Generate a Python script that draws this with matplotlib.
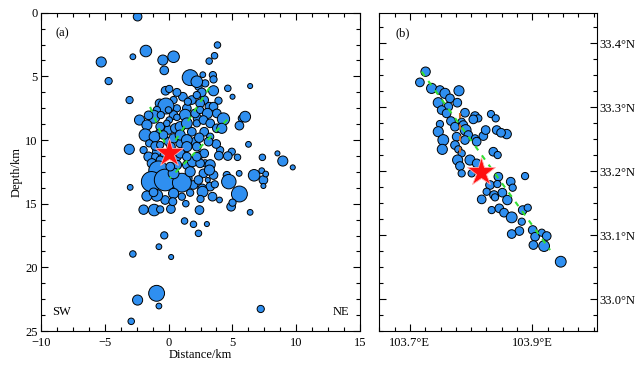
import matplotlib
matplotlib.use("Agg")
import matplotlib.pyplot as plt
from matplotlib.ticker import MultipleLocator, FixedLocator, FuncFormatter
import numpy as np

plt.rcParams['font.family'] = ['Liberation Serif', 'DejaVu Serif']
plt.rcParams['font.size'] = 9

# ---------------- Panel (a): depth profile ----------------
dist_a = [2.34, 2.87, 1.12, 1.82, 0.39, 1.43, 0.65, 2.79, -0.71, 0.39,
          2.27, -0.01, 1.82, 2.79, -0.01, 0.91, 2.08, 0.65, 1.43, 2.47,
          0.52, 2.87, -0.40, -0.92, 3.52, 1.56, 3.26, 1.95, 0.39, 1.04,
          -0.27, 4.04, 4.95,
          -2.43, 3.83, -1.78, -2.80, 0.39, -0.45, 3.18, 3.60, -5.28, -0.34,
          -4.70, 1.69, 2.21, 2.68, 3.47, 3.52, 6.39, 4.64, 5.01, -0.24,
          0.05, 0.65, -3.06, 3.52, 2.60, 2.21, 3.91, -0.21, 1.51, 2.47,
          3.20, 3.52, -0.01, -0.92, -1.18, -2.28, -1.57, -0.61, 1.30, 2.08,
          2.47, 3.05, 3.78, 4.30, 5.74, 6.00, 5.55, 0.05, 0.65, -0.66,
          -1.70, -0.79, 0.52, -0.14, 0.91, 1.43, 2.21, 2.73, 3.26, 3.78,
          4.17, -1.83, -1.10, -1.52, -0.40, 0.39, 0.91, 1.43, 2.40, 3.26,
          3.73, 2.21, 3.13, -3.08, -1.96, -1.05, -0.66, 1.43, 2.79, 6.26,
          3.94, 4.64, 5.40, 7.35, 8.53, 8.95, 9.73, -1.57, -1.05, -0.66,
          -1.31, 0.91, 1.87, 3.26, 2.47, 0.18, 0.65, 2.21, 1.43,
          -0.79, -1.34, -0.27, 1.04, 0.39, 1.69, 2.73, 3.20, 0.13,
          2.34, 3.07, 3.62, 4.56, 4.72, 5.53, 6.70, 7.30, 7.43, 7.61,
          7.43, -3.01, 5.55, 2.63, 2.66, 1.69, 0.39, -0.92, -1.70, -1.18,
          2.50, 3.44, 3.99, 4.90, 5.01, -1.96, -1.13, -0.66, 0.18, 0.33,
          1.35, 2.42, 6.39, 1.25, 1.95, 3.00, 2.34, -0.34, -0.76, 0.20,
          -2.80, -0.94, -2.43, -0.76, 7.22, -2.93]
depth_a = [5.81, 5.55, 6.60, 6.86, 6.86, 7.51, 7.51, 6.86, 7.12, 8.04,
           8.30, 9.21, 9.35, 9.35, 10.13, 10.26, 10.13, 11.31, 11.96, 11.18,
           10.92, 11.83, 11.05, 10.92, 12.75, 13.01, 13.66, 13.53, 13.53, 14.45,
           14.71, 10.79, 10.92,
           0.31, 2.54, 3.01, 3.46, 3.46, 3.72, 3.80, 3.38, 3.87, 4.53,
           5.37, 5.10, 5.42, 4.87, 4.90, 5.24, 5.76, 5.94, 6.60, 6.13,
           5.99, 6.26, 6.86, 6.13, 6.26, 6.47, 6.91, 7.33, 6.99, 7.12,
           7.38, 7.38, 7.64, 7.64, 8.17, 8.43, 8.06, 8.04, 8.04, 7.91,
           7.64, 7.91, 7.91, 8.35, 8.30, 8.17, 8.87, 8.43, 8.22, 8.95,
           8.82, 9.48, 9.08, 8.69, 8.95, 8.69, 8.69, 8.43, 8.69, 9.08,
           9.08, 9.61, 9.74, 10.26, 9.61, 9.87, 9.61, 10.00, 9.82, 9.74,
           10.31, 10.52, 10.13, 10.73, 10.79, 10.47, 10.39, 10.52, 11.05, 10.34,
           11.23, 11.26, 11.36, 11.36, 11.05, 11.65, 12.15, 11.31, 11.31, 11.57,
           11.83, 11.05, 11.70, 11.94, 11.83, 10.52, 11.96, 11.31, 11.31,
           12.41, 13.27, 13.14, 13.35, 12.62, 12.49, 12.62, 12.36, 12.09,
           13.14, 13.14, 13.48, 12.75, 13.27, 12.62, 12.77, 12.41, 13.14, 12.67,
           13.61, 13.72, 14.24, 13.80, 14.06, 14.14, 14.19, 14.35, 14.40, 14.11,
           14.63, 14.45, 14.71, 15.24, 14.92, 15.47, 15.50, 15.45, 15.42, 14.84,
           15.00, 15.50, 15.68, 16.36, 16.62, 16.60, 17.33, 17.49, 18.38, 19.19,
           18.95, 22.04, 22.57, 23.04, 23.27, 24.24]
# symbol radius (grows with magnitude), in 1/3-pixel units
rad_a = [10, 10, 12, 12, 10, 12, 10, 12, 12, 12,
         12, 12, 12, 12, 12, 12, 12, 12, 12, 10,
         10, 10, 10, 12, 12, 10, 12, 12, 10, 10,
         12, 10, 10,
         12, 9, 16, 8, 16, 14, 9, 9, 14, 12,
         10, 22, 16, 8, 10, 10, 7, 9, 7, 12,
         10, 11, 10, 14, 12, 10, 10, 22, 10, 12,
         12, 12, 9, 10, 18, 14, 12, 10, 16, 12,
         10, 14, 12, 17, 10, 15, 12, 9, 9, 12,
         14, 10, 13, 9, 14, 15, 10, 12, 12, 12,
         14, 17, 15, 10, 12, 13, 14, 15, 13, 10,
         12, 12, 12, 14, 10, 12, 10, 14, 12, 8,
         12, 12, 9, 9, 7, 14, 7, 13, 10, 11,
         13, 13, 14, 14, 12, 12, 13, 12, 12,
         27, 28, 30, 26, 15, 14, 12, 14, 12,
         12, 7, 10, 10, 20, 8, 16, 8, 12, 8,
         7, 8, 22, 12, 15, 10, 14, 16, 14, 12,
         10, 12, 8, 12, 10, 13, 16, 10, 12, 11,
         9, 12, 8, 9, 9, 7, 9, 10, 8, 7,
         9, 22, 14, 8, 10, 9]

# projected fault traces in the profile (distance, depth)
faultA_d = [-1.45, -0.30]
faultA_z = [7.40, 10.20]
faultB_d = [3.20, 0.30]
faultB_z = [5.90, 10.40]
faultC_d = [4.60, 0.10]
faultC_z = [8.40, 13.00]

main_d, main_z = 0.0, 11.0

# ---------------- Panel (b): map view ----------------
lon_b = [103.7256, 103.7163, 103.7354, 103.7490, 103.7572, 103.7801, 103.7463, 103.7654,
         103.7627, 103.7774, 103.7518, 103.7599, 103.7670, 103.7899, 103.7845, 103.8063,
         103.8117, 103.8035, 103.8324, 103.8401, 103.7490, 103.7463, 103.7545, 103.7529,
         103.7736, 103.7872, 103.7910, 103.7763, 103.7954, 103.8063, 103.8199, 103.8237,
         103.8417, 103.8580, 103.8488, 103.7899, 103.8090, 103.7736, 103.7790, 103.7845,
         103.8362, 103.8433, 103.7779, 103.7981, 103.8090, 103.7817, 103.7845, 103.8444,
         103.8880, 103.8008, 103.8646, 103.8678, 103.8308, 103.8428, 103.8253, 103.8373,
         103.8510, 103.8172, 103.8390, 103.8591, 103.8335, 103.8460, 103.8537, 103.8662,
         103.8842, 103.8924, 103.8826, 103.8787, 103.8662, 103.9005, 103.9044, 103.9153,
         103.9234, 103.9016, 103.9191, 103.9463]
lat_b = [33.3557, 33.3390, 33.3296, 33.3270, 33.3218, 33.3259, 33.3072, 33.3140,
         33.3009, 33.3072, 33.2957, 33.2905, 33.2785, 33.2915, 33.2774, 33.2863,
         33.2827, 33.2811, 33.2894, 33.2827, 33.2738, 33.2618, 33.2488, 33.2342,
         33.2696, 33.2722, 33.2644, 33.2540, 33.2566, 33.2514, 33.2550, 33.2644,
         33.2644, 33.2581, 33.2602, 33.2488, 33.2462, 33.2409, 33.2342, 33.2279,
         33.2305, 33.2253, 33.2175, 33.2175, 33.2123, 33.2081, 33.1966, 33.1914,
         33.1924, 33.1966, 33.1836, 33.1742, 33.1784, 33.1799, 33.1679, 33.1627,
         33.1664, 33.1559, 33.1591, 33.1549, 33.1392, 33.1419, 33.1351, 33.1278,
         33.1392, 33.1429, 33.1210, 33.1064, 33.1017, 33.1080, 33.0975, 33.1038,
         33.0986, 33.0845, 33.0829, 33.0584]
rad_b = [13, 12, 14, 12, 14, 14, 14, 12,
         12, 12, 12, 12, 12, 12, 10, 12,
         10, 12, 10, 10, 10, 14, 15, 14,
         12, 12, 15, 12, 12, 10, 12, 12,
         12, 13, 12, 12, 12, 12, 10, 10,
         12, 10, 14, 14, 12, 12, 10, 12,
         10, 10, 12, 10, 12, 10, 10, 12,
         12, 12, 10, 13, 10, 12, 12, 15,
         12, 10, 10, 12, 12, 12, 12, 10,
         12, 12, 15, 15]

fault_lon = [103.7191, 103.9289]
fault_lat = [33.3557, 33.0767]
fault2_lon = [103.7817, 103.7817]
fault2_lat = [33.2905, 33.2227]
main_lon, main_lat = 103.8161, 33.1982

# ---------------- drawing ----------------
BLUE = '#2f8ff0'
GREEN = '#33dd33'
ORANGE = '#d2691e'

def sz(r):
    return (0.52 * np.asarray(r, dtype=float)) ** 2

fig = plt.figure(figsize=(6.44, 3.67), dpi=100)
axa = fig.add_axes([41 / 644, 36 / 367, 319 / 644, 318.3 / 367])
axb = fig.add_axes([379.3 / 644, 36 / 367, 217.4 / 644, 318.3 / 367])

# panel a
axa.scatter(dist_a, depth_a, s=sz(rad_a), c=BLUE, edgecolors='black', linewidths=0.7, zorder=2)
for d, z in [(faultA_d, faultA_z), (faultB_d, faultB_z), (faultC_d, faultC_z)]:
    axa.plot(d, z, color=GREEN, lw=1.5, ls=(0, (2.5, 3)), zorder=3)
axa.plot([main_d], [main_z], marker='*', ms=21, color='#ff1010', mec='#ffb0b0', mew=0.6, zorder=4)
axa.set_xlim(-10, 15)
axa.set_ylim(25, 0)
axa.xaxis.set_major_locator(MultipleLocator(5))
axa.xaxis.set_minor_locator(MultipleLocator(1.25))
axa.yaxis.set_major_locator(MultipleLocator(5))
axa.yaxis.set_minor_locator(MultipleLocator(1.25))
axa.tick_params(which='both', direction='in', top=True, right=True, labelsize=9)
axa.tick_params(axis='x', pad=4.5)
axa.tick_params(axis='y', pad=2.5)
axa.tick_params(which='major', length=5, width=0.8)
axa.tick_params(which='minor', length=3, width=0.8)
axa.set_xlabel('Distance/km', fontsize=9, labelpad=0)
axa.set_ylabel('Depth/km', fontsize=9, labelpad=2)
axa.text(0.045, 0.955, '(a)', transform=axa.transAxes, ha='left', va='top', fontsize=9)
axa.text(0.035, 0.04, 'SW', transform=axa.transAxes, ha='left', va='bottom', fontsize=9)
axa.text(0.965, 0.04, 'NE', transform=axa.transAxes, ha='right', va='bottom', fontsize=9)

# panel b
axb.scatter(lon_b, lat_b, s=sz(rad_b), c=BLUE, edgecolors='black', linewidths=0.7, zorder=2)
axb.plot(fault_lon, fault_lat, color=GREEN, lw=1.5, ls=(0, (2.5, 3)), zorder=3)
axb.plot(fault2_lon, fault2_lat, color=ORANGE, lw=1.5, ls=(0, (2.5, 3)), zorder=3)
axb.plot([main_lon], [main_lat], marker='*', ms=21, color='#ff1010', mec='#ffb0b0', mew=0.6, zorder=4)
axb.set_xlim(103.65, 104.005)
axb.set_ylim(32.95, 33.448)
axb.xaxis.set_major_locator(FixedLocator([103.7, 103.9]))
axb.xaxis.set_minor_locator(MultipleLocator(0.025))
axb.yaxis.set_major_locator(MultipleLocator(0.1))
axb.yaxis.set_minor_locator(MultipleLocator(0.025))
axb.xaxis.set_major_formatter(FuncFormatter(lambda v, p: f'{v:.1f}°E'))
axb.yaxis.set_major_formatter(FuncFormatter(lambda v, p: f'{v:.1f}°N'))
axb.yaxis.tick_right()
axb.tick_params(which='both', direction='in', top=True, left=True, right=True, labelsize=9)
axb.tick_params(axis='x', pad=4.5)
axb.tick_params(axis='y', pad=2)
axb.tick_params(which='major', length=5, width=0.8)
axb.tick_params(which='minor', length=3, width=0.8)
axb.text(0.075, 0.955, '(b)', transform=axb.transAxes, ha='left', va='top', fontsize=9)

for ax in (axa, axb):
    for sp in ax.spines.values():
        sp.set_linewidth(0.8)

fig.savefig('out.png', dpi=100)
